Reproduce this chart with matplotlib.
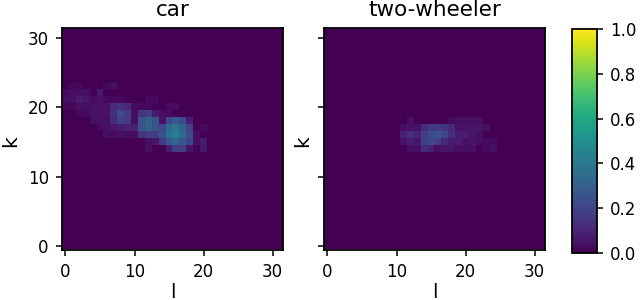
import numpy as np
import matplotlib
matplotlib.use('Agg')
import matplotlib.pyplot as plt

titles = ['car', 'two-wheeler']
ticks = [0, 10, 20, 30]
cbar_ticks = [0.0, 0.2, 0.4, 0.6, 0.8, 1.0]

# rows: k -> (first l, values)
car_rows = {
    23: [(1, [.02, .02]), (6, [.02, .04])],
    22: [(0, [.03, .04, .04, .04, .01, .07])],
    21: [(0, [.04, .05, .08, .06, .03, .05, .03, .02, .02]), (12, [.03, .03])],
    20: [(0, [.02, .02, .04, .04, .05, .05, .05, .12, .14, .12, .03, .02, .02, .01]), (15, [.03, .03])],
    19: [(2, [.02, .03, .05, .05, .05, .14, .23, .18, .04, .16, .18, .08, .04, .03])],
    18: [(4, [.04, .05, .04, .12, .19, .17, .04, .26, .31, .26, .05, .22, .27, .24, .08])],
    17: [(5, [.03, .04, .06, .08, .10, .10, .26, .32, .26, .22, .34, .38, .32, .20, .01, .03])],
    16: [(6, [.04, .03, .04, .04, .04, .15, .18, .18, .25, .38, .43, .34, .23, .04])],
    15: [(12, [.04, .06, .18, .27, .32, .27, .20, .04, .08])],
    14: [(12, [.04]), (15, [.08, .18, .18, .05, .01, .07])],
}
bike_rows = {
    18: [(12, [.04]), (18, [.03, .04, .04, .04, .04])],
    17: [(11, [.04, .05, .05, .13, .17, .17, .15, .12, .05, .05, .06, .06, .04])],
    16: [(11, [.10, .13, .10, .18, .22, .26, .21, .13, .08, .08, .06, .04])],
    15: [(11, [.05, .08, .06, .19, .22, .19, .11, .08, .08, .05, .06, .04, .03, .03])],
    14: [(12, [.04, .04, .13, .10, .04, .06, .06, .04, .04, .04, .01, .03, .04])],
}

def to_grid(rows):
    grid = np.zeros((32, 32))
    for k in rows:
        for start, vals in rows[k]:
            grid[k, start:start + len(vals)] = vals
    return grid

fig = plt.figure(figsize=(6.4, 3.0), dpi=100)
W, H = 640.0, 300.0
ax1 = fig.add_axes([62/W, 1 - 249.5/H, 221/W, 222/H])
ax2 = fig.add_axes([324/W, 1 - 249.5/H, 221/W, 222/H])
cax = fig.add_axes([572/W, 1 - 253/H, 25/W, 224/H])

for ax, rows, title in zip([ax1, ax2], [car_rows, bike_rows], titles):
    im = ax.imshow(to_grid(rows), origin='lower', cmap='viridis', vmin=0, vmax=1, aspect='auto')
    ax.set_title(title, fontsize=15.5, pad=8)
    ax.set_xticks(ticks)
    ax.set_yticks(ticks)
    ax.tick_params(labelsize=12, width=1.1, length=4, pad=5.5)
    ax.set_xlabel('l', fontsize=14.5)
    # the reference crops these labels at the edge, here they stay just inside
    ax.xaxis.set_label_coords(0.5, -33/222)
    ax.set_ylabel('k', fontsize=14.5)
    for s in ax.spines.values():
        s.set_linewidth(1.3)
ax1.yaxis.set_label_coords(-0.19, 0.49)
ax2.yaxis.set_label_coords(-0.054, 0.49)
ax2.tick_params(labelleft=False)

cb = fig.colorbar(im, cax=cax)
cb.set_ticks(cbar_ticks)
cb.ax.tick_params(labelsize=12, width=1.1, length=4, pad=5.5)
cb.outline.set_linewidth(1.3)

fig.savefig('out.png', dpi=100)
